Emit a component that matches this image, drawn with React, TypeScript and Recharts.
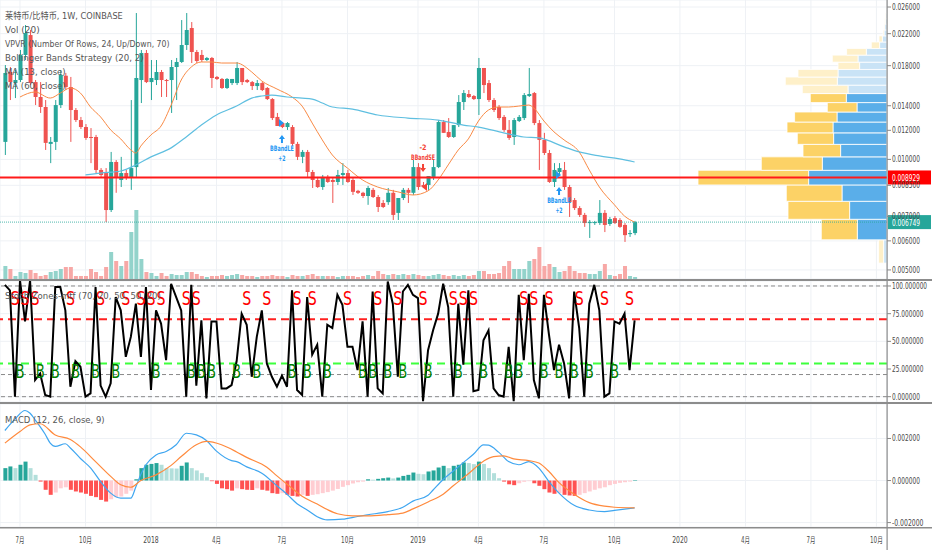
import React from "react";
import {
  ComposedChart, Bar, Line, Scatter, XAxis, YAxis, CartesianGrid,
  ReferenceLine, ReferenceArea,
} from "recharts";

// weekly bars, first bar on Monday 2017-06-12; x = week index
const tickWeeks = [3, 16, 29, 42, 55, 68, 82, 94, 107, 121, 134, 147, 160, 173];
const tickLabels = ["7月", "10月", "2018", "4月", "7月", "10月", "2019", "4月", "7月", "10月", "2020", "4月", "7月", "10月"];

// [open, high, low, close]
const weeklyOHLC: number[][] = [
  [0.01116, 0.01807, 0.01028, 0.01719], [0.0173, 0.01785, 0.01451, 0.01624], [0.01614, 0.01752, 0.01469, 0.01645],
  [0.01645, 0.01986, 0.01624, 0.01925], [0.01925, 0.02322, 0.01865, 0.02209], [0.02181, 0.02251, 0.01594, 0.01614],
  [0.01624, 0.01645, 0.01406, 0.01479], [0.01479, 0.01624, 0.01338, 0.01389], [0.01389, 0.01451, 0.01061, 0.01109],
  [0.01102, 0.01151, 0.00977, 0.01116], [0.01116, 0.01451, 0.01061, 0.01406], [0.01406, 0.01752, 0.0138, 0.01698],
  [0.0169, 0.0172, 0.01545, 0.01574], [0.01574, 0.01677, 0.01116, 0.01363], [0.01363, 0.0138, 0.01264, 0.0128],
  [0.0128, 0.01305, 0.0121, 0.01225], [0.01225, 0.01248, 0.0113, 0.01144], [0.01151, 0.01217, 0.00977, 0.01144],
  [0.01151, 0.01166, 0.00918, 0.00936], [0.00936, 0.00947, 0.00896, 0.00907], [0.00918, 0.00947, 0.00675, 0.00728],
  [0.00728, 0.01048, 0.00719, 0.00984], [0.00984, 0.00996, 0.00811, 0.0089], [0.00879, 0.01016, 0.00841, 0.00918],
  [0.00918, 0.00936, 0.00879, 0.0089], [0.0089, 0.01451, 0.00826, 0.00947], [0.00953, 0.02504, 0.00896, 0.01666],
  [0.01645, 0.01986, 0.01424, 0.01949], [0.01949, 0.01986, 0.01614, 0.01624], [0.01624, 0.01865, 0.01451, 0.01666],
  [0.01645, 0.01865, 0.01594, 0.0173], [0.0173, 0.01752, 0.01479, 0.01645], [0.01645, 0.01656, 0.01479, 0.01635],
  [0.01645, 0.01865, 0.01338, 0.01785], [0.01785, 0.01889, 0.01451, 0.01842], [0.01842, 0.02396, 0.0183, 0.02049],
  [0.02049, 0.02504, 0.01986, 0.02251], [0.02279, 0.02366, 0.0183, 0.01961], [0.01961, 0.01986, 0.0183, 0.01853],
  [0.01925, 0.01986, 0.01842, 0.01865], [0.01865, 0.01901, 0.01853, 0.01889], [0.01889, 0.01901, 0.01565, 0.01666],
  [0.01677, 0.01687, 0.01645, 0.01656], [0.01656, 0.01666, 0.01555, 0.01565], [0.01565, 0.01666, 0.01555, 0.01656],
  [0.01614, 0.01656, 0.01594, 0.01656], [0.01614, 0.01842, 0.01594, 0.01774], [0.01774, 0.01774, 0.01594, 0.01624],
  [0.01645, 0.01656, 0.01614, 0.01624], [0.01624, 0.01635, 0.01545, 0.01584], [0.01584, 0.01645, 0.01545, 0.01614],
  [0.01614, 0.01624, 0.01535, 0.01545], [0.01565, 0.01574, 0.01451, 0.0146], [0.0146, 0.01469, 0.0128, 0.01296],
  [0.01305, 0.01338, 0.01233, 0.01233], [0.01256, 0.01264, 0.01217, 0.01225], [0.01225, 0.01264, 0.01203, 0.01256],
  [0.01225, 0.0124, 0.01088, 0.01102], [0.01102, 0.01116, 0.00996, 0.01016], [0.01016, 0.01061, 0.00977, 0.01048],
  [0.01048, 0.01061, 0.00896, 0.00924], [0.00924, 0.00936, 0.00836, 0.00879], [0.00879, 0.00896, 0.00836, 0.00841],
  [0.00841, 0.00907, 0.00826, 0.00896], [0.00896, 0.00907, 0.00863, 0.00868], [0.00879, 0.0089, 0.00761, 0.00868],
  [0.00868, 0.00936, 0.00852, 0.00907], [0.00907, 0.00977, 0.00852, 0.00918], [0.00918, 0.00936, 0.00863, 0.00868],
  [0.00879, 0.0089, 0.008, 0.00816], [0.00821, 0.00826, 0.00805, 0.00811], [0.00811, 0.00816, 0.00785, 0.00795],
  [0.00795, 0.00847, 0.00752, 0.00836], [0.00826, 0.00836, 0.00785, 0.0079], [0.0079, 0.008, 0.00719, 0.00742],
  [0.00761, 0.00775, 0.00737, 0.00742], [0.00765, 0.00836, 0.00752, 0.00811], [0.00811, 0.00826, 0.00684, 0.00706],
  [0.00715, 0.00785, 0.00684, 0.00785], [0.00785, 0.00836, 0.00775, 0.00826], [0.00826, 0.00836, 0.00761, 0.00811],
  [0.00811, 0.00996, 0.008, 0.00953], [0.00953, 0.00977, 0.00826, 0.00841], [0.00852, 0.00868, 0.00836, 0.00841],
  [0.00852, 0.00901, 0.00826, 0.00901], [0.00896, 0.00996, 0.00879, 0.00953], [0.00953, 0.0128, 0.00947, 0.01264],
  [0.01264, 0.0128, 0.01181, 0.01181], [0.01188, 0.01296, 0.01144, 0.01151], [0.01151, 0.0124, 0.01144, 0.0124],
  [0.0124, 0.01497, 0.01225, 0.01433], [0.01433, 0.01545, 0.01363, 0.01516], [0.01507, 0.01545, 0.01469, 0.01479],
  [0.01488, 0.01497, 0.01451, 0.0146], [0.0146, 0.01889, 0.01321, 0.01774], [0.01774, 0.01774, 0.01516, 0.01594],
  [0.01614, 0.01645, 0.01433, 0.01451], [0.01451, 0.01469, 0.01346, 0.01363], [0.01389, 0.01406, 0.0128, 0.01296],
  [0.01305, 0.01321, 0.01188, 0.01203], [0.01203, 0.0128, 0.0113, 0.01144], [0.01151, 0.01296, 0.01095, 0.0128],
  [0.01272, 0.01321, 0.01264, 0.01305], [0.01296, 0.01516, 0.0128, 0.01497], [0.01488, 0.01774, 0.01479, 0.01507],
  [0.01516, 0.01526, 0.0124, 0.01256], [0.01256, 0.0128, 0.00936, 0.0113], [0.0113, 0.01181, 0.01028, 0.01041],
  [0.01041, 0.01061, 0.00863, 0.00868], [0.00868, 0.00977, 0.00841, 0.00936], [0.00924, 0.00977, 0.00907, 0.00947],
  [0.00936, 0.00984, 0.00826, 0.00841], [0.00841, 0.00852, 0.00697, 0.00765], [0.00775, 0.00785, 0.00728, 0.00737],
  [0.00737, 0.00746, 0.00697, 0.00706], [0.00706, 0.00715, 0.00655, 0.00671], [0.00671, 0.00684, 0.00611, 0.00675],
  [0.00671, 0.0068, 0.00663, 0.00675], [0.00671, 0.00775, 0.00663, 0.00715], [0.00715, 0.00728, 0.00634, 0.00663],
  [0.00667, 0.00697, 0.00659, 0.00688], [0.00692, 0.00701, 0.00667, 0.00671], [0.00684, 0.00692, 0.00651, 0.00655],
  [0.00663, 0.00671, 0.00596, 0.00622], [0.00626, 0.00642, 0.00615, 0.0063], [0.0063, 0.0068, 0.00622, 0.006749],
];

const volumes = [
  1300, 1000, 300, 700, 600, 900, 600, 300, 400, 700, 800, 1000, 1200, 1200, 300, 300, 300, 1000, 700, 300,
  1200, 2700, 1800, 1300, 1800, 4700, 6900, 2000, 700, 600, 300, 600, 300, 500, 400, 400, 700, 700, 500, 300,
  200, 300, 300, 400, 300, 400, 500, 400, 300, 300, 200, 300, 300, 400, 300, 300, 200, 400, 300, 300,
  400, 500, 300, 300, 300, 300, 200, 300, 300, 300, 200, 300, 400, 300, 800, 500, 400, 500, 400, 500,
  400, 500, 400, 300, 300, 400, 500, 400, 300, 400, 300, 400, 300, 400, 800, 800, 500, 500, 600, 1300,
  1800, 1000, 1000, 1000, 1800, 2000, 3200, 1300, 1500, 1200, 700, 800, 1300, 800, 600, 600, 500, 500, 800, 1500,
  400, 300, 500, 1300, 300, 200,
];

const ma13Points: number[][] = [
  [3, 0.01479], [6, 0.01526], [9, 0.01469], [11, 0.01516], [13, 0.01565], [15, 0.01516], [17, 0.01389], [19, 0.01305],
  [21, 0.01203], [23, 0.01137], [25, 0.01061], [26, 0.01041], [27, 0.01088], [29, 0.01166], [31, 0.01233], [33, 0.01406],
  [35, 0.01645], [37, 0.01785], [39, 0.01842], [41, 0.01842], [43, 0.0183], [46, 0.0183], [49, 0.0173], [51, 0.01635],
  [54, 0.01555], [57, 0.01479], [59, 0.01397], [61, 0.01256], [63, 0.0113], [65, 0.01028], [68, 0.00947], [71, 0.00879],
  [74, 0.00841], [78, 0.00816], [81, 0.008], [84, 0.00821], [86, 0.00879], [88, 0.00966], [90, 0.01061], [92, 0.01137],
  [94, 0.01272], [96, 0.01363], [98, 0.01389], [100, 0.01389], [102, 0.01397], [104, 0.01406], [105, 0.0138], [107, 0.01272],
  [109, 0.01188], [111, 0.0113], [114, 0.01048], [116, 0.00936], [118, 0.00841], [121, 0.00752], [123, 0.00701], [125, 0.00675],
];
const ma60Points: number[][] = [
  [16, 0.00907], [19, 0.00918], [23, 0.0093], [26, 0.00966], [29, 0.01016], [33, 0.01075], [36, 0.01151], [39, 0.0124],
  [42, 0.01321], [46, 0.01397], [49, 0.01469], [51, 0.01488], [53, 0.01497], [56, 0.01479], [59, 0.01469], [61, 0.0146],
  [63, 0.01424], [65, 0.01389], [69, 0.01371], [74, 0.01321], [80, 0.01296], [86, 0.0128], [91, 0.0124], [94, 0.01225],
  [99, 0.01181], [103, 0.01151], [106, 0.01144], [111, 0.01082], [114, 0.01048], [118, 0.01022], [122, 0.01003], [125, 0.00984],
];

// strategy signals: week, price at arrow tip
const signals = [
  { i: 55, p: 0.01165, kind: "LE" },
  { i: 83, p: 0.00924, kind: "SE" },
  { i: 110, p: 0.00841, kind: "LE" },
];

// VPVR: 24 rows, edges + up/down volume per row (bottom to top)
const vpEdges = [0.00522, 0.00604, 0.00687, 0.00769, 0.00852, 0.00934, 0.01016, 0.01099, 0.01181, 0.01264, 0.01346, 0.01428,
  0.01511, 0.01593, 0.01676, 0.01758, 0.0184, 0.01923, 0.02005, 0.02088, 0.0217, 0.02252, 0.02335, 0.02417, 0.025];
const vpUp = [3.4, 29.7, 37.4, 45, 78.4, 64.7, 46.4, 53.4, 54, 50, 30, 40.7, 39, 49.7, 49, 27.4, 29, 20.7, 7.4, 4.7, 3, 2.3, 1.7, 1.2];
const vpDown = [5, 36, 61.6, 55.7, 110.6, 61, 37.6, 36.3, 46, 42.4, 29.7, 36, 45.7, 52, 40, 21.6, 25.7, 19.7, 8.3, 3.3, 1, 0.7, 0.7, 0.6];
const valueAreaRows = [1, 11];
const POC = 0.008929;
const LAST = 0.006749;

const oscValues = [
  101, 96, 0, 105, 68, 105, 15, 21, 1.5, 0, 99, 99, 78, 9, 32, 27, 0, 3, 99, 10,
  0, 12, 90, 78, 36, 54, 84, 36, 99, 6, 78, 66, 33, 102, 90, 78, 0, 101, 10, 69,
  -1.5, 68, 68, 7.5, 7.5, 10.5, 32, 75, 65, 18, 54, 78, 30, 18, 9, 19, 9, 96, 6, 1.5,
  90, 38, 47, 0, 65, 62, 92, 83, 45, 45, 24, 68, 0, 95, 7.5, 3, 104, 84, 18, 95,
  101, 92, 89, -4, 42, 60, 75, 102, 81, 0, 84, 29, 96, 5, 6, 51, 60, 7.5, 1.5, 0,
  45, -4, 92, 33, 93, 15, -1.5, 92, 56, 24, 47, 30, -1.5, 95, 62, 0, 84, 101, 78, 0,
  3, 68, 66, 75, 24, 69,
];
const sWeeks = [2, 4, 6, 13, 19, 24, 27, 29, 31, 36, 38, 48, 52, 58, 61, 68, 74, 78, 83, 89, 91, 93, 103, 105, 108, 114, 119, 124];
const bWeeks = [3, 7, 10, 14, 18, 22, 30, 37, 39, 41, 46, 50, 57, 60, 64, 71, 73, 76, 79, 84, 90, 95, 100, 102, 107, 110, 113, 116, 121];

const macdHist = [
  0.00059, 0.00067, 0.00059, 0.00075, 0.0009, 0.00059, 0.00027, -0.00005, -0.00044, -0.00068,
  -0.00057, -0.00037, -0.00032, -0.00044, -0.00052, -0.00057, -0.00063, -0.00073, -0.00079, -0.00092,
  -0.001, -0.00089, -0.00079, -0.00076, -0.00063, -0.00048, 0.00006, 0.00059, 0.00075, 0.00079,
  0.00083, 0.00075, 0.00059, 0.00058, 0.00057, 0.0007, 0.00086, 0.00059, 0.00048, 0.00035,
  0.00016, -0.00003, -0.00016, -0.00037, -0.00041, -0.00048, -0.00037, -0.00041, -0.00044, -0.00045,
  -0.00037, -0.00044, -0.00048, -0.0006, -0.00063, -0.0006, -0.00068, -0.00073, -0.00076, -0.00068,
  -0.00073, -0.00068, -0.00065, -0.0006, -0.00055, -0.00048, -0.0004, -0.0003, -0.00022, -0.00014,
  -0.00008, -0.00005, 0.00006, 0.00004, 0.00008, 0.00011, 0.00014, 0.0001, 0.00014, 0.00022,
  0.00027, 0.00038, 0.00032, 0.0003, 0.00043, 0.00048, 0.00062, 0.0007, 0.00059, 0.0007,
  0.00075, 0.00086, 0.00083, 0.00078, 0.0009, 0.00079, 0.00059, 0.00035, 0.00011, -0.00005,
  -0.00018, -0.00022, -0.00013, -0.00006, -0.00003, -0.00013, -0.00025, -0.00041, -0.00057, -0.00063,
  -0.0006, -0.00068, -0.00071, -0.00073, -0.00068, -0.0006, -0.00052, -0.00044, -0.00037, -0.00032,
  -0.00022, -0.00016, -0.00011, -0.00008, -0.00005, 0.00001,
];
const macdPoints: number[][] = [
  [0, 0.00238], [2, 0.00292], [4, 0.00333], [5, 0.0032], [6, 0.00289], [8, 0.0022], [9, 0.00178], [10, 0.00162],
  [12, 0.00175], [13, 0.00155], [15, 0.00105], [17, 0.0006], [19, -0.00005], [21, -0.0006], [23, -0.00084], [25, -0.00084],
  [26, -0.0003], [27, 0.0003], [28, 0.00075], [30, 0.00122], [32, 0.00138], [34, 0.0017], [36, 0.00225], [38, 0.00217],
  [40, 0.0019], [42, 0.0014], [45, 0.00095], [46, 0.0009], [48, 0.00065], [51, 0.00035], [54, -0.00025], [56, -0.00065],
  [58, -0.0011], [60, -0.0014], [62, -0.00172], [64, -0.00187], [67, -0.00184], [70, -0.00171], [72, -0.00163], [76, -0.00148],
  [79, -0.00127], [81, -0.00098], [84, -0.0007], [85, -0.00045], [87, 0.00005], [89, 0.00045], [91, 0.00085], [93, 0.00125],
  [95, 0.0017], [96, 0.00168], [98, 0.00135], [100, 0.0009], [102, 0.00075], [104, 0.0009], [106, 0.00059], [108, -0.00005],
  [110, -0.0006], [113, -0.00118], [116, -0.0014], [119, -0.00148], [121, -0.00142], [125, -0.0013],
];
const signalPoints: number[][] = [
  [0, 0.00178], [3, 0.00233], [5, 0.00265], [7, 0.0027], [10, 0.00217], [13, 0.00195], [15, 0.0016], [18, 0.0009],
  [21, 0.0002], [23, -0.0002], [25, -0.00032], [27, 0.0], [30, 0.00027], [33, 0.00072], [35, 0.00114], [38, 0.0017],
  [40, 0.00186], [43, 0.0017], [46, 0.00136], [48, 0.0011], [52, 0.00063], [54, 0.00022], [57, -0.00037], [59, -0.00075],
  [62, -0.00112], [64, -0.00138], [66, -0.00158], [69, -0.00168], [72, -0.00168], [76, -0.00162], [79, -0.00155], [81, -0.00135],
  [84, -0.00102], [87, -0.00065], [89, -0.00025], [92, 0.00032], [95, 0.00092], [97, 0.00114], [99, 0.00117], [101, 0.00103],
  [104, 0.00095], [106, 0.00083], [108, 0.00043], [110, -0.0001], [113, -0.00065], [116, -0.00105], [119, -0.00122], [121, -0.00127],
  [125, -0.0013],
];

const priceTicks = [0.026, 0.022, 0.018, 0.014, 0.012, 0.01, 0.0085, 0.007, 0.006, 0.005];

const W = 932;
const X_DOMAIN = [-0.97, 175.1];
const FONT = "'DejaVu Sans', 'Noto Sans CJK SC', sans-serif";
const UP = "#26a69a";
const DOWN = "#ef5350";
const GRID = "#eef1f5";

const ma13 = new Map(ma13Points.map(([i, v]) => [i, v]));
const ma60 = new Map(ma60Points.map(([i, v]) => [i, v]));
const macdMap = new Map(macdPoints.map(([i, v]) => [i, v]));
const sigMap = new Map(signalPoints.map(([i, v]) => [i, v]));

const priceRows = weeklyOHLC.map(([o, h, l, c], i) => ({
  i, o, h, l, c, hl: [l, h], vol: volumes[i], ma13: ma13.get(i), ma60: ma60.get(i),
}));
const oscRows = oscValues.map((v, i) => ({ i, osc: v }));
const sRows = sWeeks.map((i) => ({ i, y: 89 }));
const bRows = bWeeks.map((i) => ({ i, y: 23 }));
const macdRows = macdHist.map((v, i) => {
  const prev = i > 0 ? macdHist[i - 1] : 0;
  const col = v >= 0 ? (v >= prev ? "#26a69a" : "#b2dfdb") : (v <= prev ? "#ff5252" : "#ffcdd2");
  return { i, hist: v, col, macd: macdMap.get(i), sig: sigMap.get(i) };
});

// condensed-looking text, width forced per character cell
function CText({ x, y, s, size = 9.5, cw = 4.33, cjk = 8.8, fill = "#555", anchor = "start", weight = 400 }: any) {
  let w = 0;
  for (const ch of s) w += ch.charCodeAt(0) > 0x2e80 ? cjk : cw;
  return (
    <text x={x} y={y} fontSize={size} fontFamily={FONT} fill={fill} textAnchor={anchor}
      dominantBaseline="central" fontWeight={weight} textLength={w} lengthAdjust="spacingAndGlyphs">
      {s}
    </text>
  );
}

const AxisTick = ({ x, y, payload }: any) => (
  <CText x={x} y={y} s={Number(payload.value).toFixed(6)} size={8.3} cw={3.5} fill="#4a4a4a" />
);

const XTick = ({ x, y, payload }: any) => {
  const s = tickLabels[tickWeeks.indexOf(payload.value)] ?? "";
  return <CText x={x} y={y + 13} s={s} anchor="middle" size={8.5} cw={3.9} cjk={5} fill="#4a4a4a" />;
};

const Candle = (p: any) => {
  const { x, y, width, height, payload } = p;
  if (!payload || height == null) return null;
  const { o, h, l, c } = payload;
  const top = Math.min(y, y + height);
  const hgt = Math.abs(height);
  const span = Math.log(h) - Math.log(l);
  const yOf = (v: number) => (span > 0 ? top + (hgt * (Math.log(h) - Math.log(v))) / span : top);
  const col = c >= o ? UP : DOWN;
  const b1 = yOf(Math.max(o, c));
  const b2 = yOf(Math.min(o, c));
  const cx = x + width / 2;
  return (
    <g>
      <line x1={cx} x2={cx} y1={top} y2={top + hgt} stroke={col} strokeWidth={1} />
      <rect x={x} y={b1} width={width} height={Math.max(1, b2 - b1)} fill={col} />
    </g>
  );
};

const VolBar = (p: any) => {
  const { x, y, width, height, payload } = p;
  if (!payload || !height) return null;
  return <rect x={x} y={y} width={width} height={height} fill={payload.c >= payload.o ? "#93d3cb" : "#f7a8a6"} />;
};

const HistBar = (p: any) => {
  const { x, y, width, height, payload } = p;
  if (!payload) return null;
  const top = Math.min(y, y + height);
  return <rect x={x} y={top} width={width} height={Math.max(0.5, Math.abs(height))} fill={payload.col} />;
};

const SignalMark = (p: any) => {
  const { cx, cy, payload } = p;
  if (cx == null || cy == null) return null;
  if (payload.kind === "LE") {
    const col = "#2196f3";
    return (
      <g>
        <path d={`M${cx - 3},${cy - 16} L${cx + 2},${cy - 12} L${cx - 3},${cy - 8} Z`} fill={col} />
        <path d={`M${cx},${cy} L${cx + 3},${cy + 4} L${cx + 1},${cy + 4} L${cx + 1},${cy + 8} L${cx - 1},${cy + 8} L${cx - 1},${cy + 4} L${cx - 3},${cy + 4} Z`} fill={col} />
        <CText x={cx} y={cy + 13} s="BBandLE" anchor="middle" size={7.5} cw={3.4} fill={col} weight={700} />
        <CText x={cx} y={cy + 23} s="+2" anchor="middle" size={7.5} cw={3.6} fill={col} weight={700} />
      </g>
    );
  }
  const col = "#f44336";
  return (
    <g>
      <path d={`M${cx},${cy} L${cx + 3},${cy - 4} L${cx + 1},${cy - 4} L${cx + 1},${cy - 8} L${cx - 1},${cy - 8} L${cx - 1},${cy - 4} L${cx - 3},${cy - 4} Z`} fill={col} />
      <CText x={cx} y={cy - 15} s="BBandSE" anchor="middle" size={7.5} cw={3.4} fill={col} weight={700} />
      <CText x={cx} y={cy - 25} s="-2" anchor="middle" size={7.5} cw={3.6} fill={col} weight={700} />
      <path d={`M${cx + 4},${cy + 11} L${cx - 1},${cy + 15} L${cx + 4},${cy + 19} Z`} fill={col} />
    </g>
  );
};

const Letter = (ch: string, fill: string) => (p: any) => {
  if (p.cx == null) return null;
  return (
    <text x={p.cx} y={p.cy} fontSize={20} fontFamily={FONT} fill={fill} textAnchor="middle"
      dominantBaseline="central" textLength={9} lengthAdjust="spacingAndGlyphs">{ch}</text>
  );
};

const PriceTag = ({ viewBox, text, bg }: any) => {
  if (!viewBox) return null;
  const x = viewBox.x + viewBox.width + 1;
  const y = viewBox.y;
  return (
    <g>
      <rect x={x} y={y - 7} width={43} height={14} fill={bg} />
      <CText x={x + 4} y={y + 0.5} s={text} size={8.3} cw={3.5} fill="#fff" />
    </g>
  );
};

const legend = [
  "莱特币/比特币, 1W, COINBASE",
  "Vol (20)",
  "VPVR (Number Of Rows, 24, Up/Down, 70)",
  "Bollinger Bands Strategy (20, 2)",
  "MA (13, close)",
  "MA (60, close)",
];

const margin = { top: 0, right: 0, bottom: 0, left: 0 };

export default function App() {
  return (
    <div style={{ position: "absolute", left: 0, top: 0, width: W, height: 550, background: "#fff", overflow: "hidden" }}>
      {/* price pane */}
      <div style={{ position: "absolute", left: 0, top: 0 }}>
        <ComposedChart width={W} height={279} data={priceRows} margin={margin}>
          <CartesianGrid xAxisId="t" yAxisId="price" stroke={GRID} />
          <XAxis xAxisId="t" dataKey="i" type="number" domain={X_DOMAIN} ticks={tickWeeks} hide allowDataOverflow />
          <XAxis xAxisId="vx" dataKey="i" type="number" domain={X_DOMAIN} hide allowDataOverflow />
          <XAxis xAxisId="vp" dataKey="i" type="number" domain={[0, 887]} reversed hide allowDataOverflow />
          <YAxis yAxisId="price" orientation="right" width={45} type="number" scale="log"
            domain={[0.004724, 0.02717]} ticks={priceTicks} interval={0} allowDataOverflow
            axisLine={false} tickLine={{ stroke: "#888" }} tickSize={4} tickMargin={1} tick={<AxisTick />} />
          <YAxis yAxisId="vol" hide type="number" domain={[0, 27900]} allowDataOverflow />
          <Bar xAxisId="vx" yAxisId="vol" dataKey="vol" barSize={4} shape={VolBar} isAnimationActive={false} />
          {vpEdges.slice(0, 24).map((lo, k) => {
            const va = k >= valueAreaRows[0] && k <= valueAreaRows[1];
            return [
              <ReferenceArea key={`u${k}`} xAxisId="vp" yAxisId="price" x1={0} x2={vpUp[k]} y1={lo} y2={vpEdges[k + 1]}
                fill={va ? "#5aaee9" : "#c9e3f6"} fillOpacity={1} stroke="#fff" strokeWidth={0.8} />,
              <ReferenceArea key={`d${k}`} xAxisId="vp" yAxisId="price" x1={vpUp[k]} x2={vpUp[k] + vpDown[k]} y1={lo} y2={vpEdges[k + 1]}
                fill={va ? "#fcd266" : "#fef0c9"} fillOpacity={1} stroke="#fff" strokeWidth={0.8} />,
            ];
          })}
          <Bar xAxisId="t" yAxisId="price" dataKey="hl" barSize={4} shape={Candle} isAnimationActive={false} />
          <Line xAxisId="t" yAxisId="price" dataKey="ma13" type="monotone" connectNulls dot={false} activeDot={false}
            stroke="#f98a45" strokeWidth={1} isAnimationActive={false} />
          <Line xAxisId="t" yAxisId="price" dataKey="ma60" type="monotone" connectNulls dot={false} activeDot={false}
            stroke="#5fbfe0" strokeWidth={1.2} isAnimationActive={false} />
          <Scatter xAxisId="t" yAxisId="price" data={signals} dataKey="p" shape={SignalMark} isAnimationActive={false} />
          <ReferenceLine xAxisId="t" yAxisId="price" y={LAST} stroke="#26a69a" strokeDasharray="1 1" strokeOpacity={0.8}
            label={<PriceTag text={LAST.toFixed(6)} bg="#26a69a" />} />
          <ReferenceLine xAxisId="t" yAxisId="price" y={POC} stroke="#ff1a1a" strokeWidth={2}
            label={<PriceTag text={POC.toFixed(6)} bg="#ff0000" />} />
        </ComposedChart>
      </div>

      {/* oscillator pane */}
      <div style={{ position: "absolute", left: 0, top: 281 }}>
        <ComposedChart width={W} height={121} data={oscRows} margin={margin}>
          <CartesianGrid xAxisId="t" yAxisId="o" stroke={GRID} />
          <XAxis xAxisId="t" dataKey="i" type="number" domain={X_DOMAIN} ticks={tickWeeks} hide allowDataOverflow />
          <YAxis yAxisId="o" orientation="right" width={45} type="number" domain={[-4.8, 104.5]}
            ticks={[100, 75, 50, 25, 0]} interval={0} allowDataOverflow axisLine={false}
            tickLine={{ stroke: "#888" }} tickSize={4} tickMargin={1} tick={<AxisTick />} />
          <ReferenceLine xAxisId="t" yAxisId="o" y={100} stroke="#8a8a8a" strokeDasharray="4 3" />
          <ReferenceLine xAxisId="t" yAxisId="o" y={20} stroke="#8a8a8a" strokeDasharray="4 3" />
          <ReferenceLine xAxisId="t" yAxisId="o" y={0} stroke="#8a8a8a" strokeDasharray="4 3" />
          <ReferenceLine xAxisId="t" yAxisId="o" y={70} stroke="#ff2020" strokeWidth={2} strokeDasharray="8 5" />
          <ReferenceLine xAxisId="t" yAxisId="o" y={30} stroke="#3dff3d" strokeWidth={2} strokeDasharray="8 5" />
          <Line xAxisId="t" yAxisId="o" dataKey="osc" type="linear" dot={false} activeDot={false}
            stroke="#000" strokeWidth={2} isAnimationActive={false} />
          <Scatter xAxisId="t" yAxisId="o" data={sRows} dataKey="y" shape={Letter("S", "#ff0000")} isAnimationActive={false} />
          <Scatter xAxisId="t" yAxisId="o" data={bRows} dataKey="y" shape={Letter("B", "#008000")} isAnimationActive={false} />
        </ComposedChart>
      </div>

      {/* MACD pane */}
      <div style={{ position: "absolute", left: 0, top: 404 }}>
        <ComposedChart width={W} height={146} data={macdRows} margin={margin}>
          <CartesianGrid xAxisId="t" yAxisId="m" stroke={GRID} />
          <XAxis xAxisId="t" dataKey="i" type="number" domain={X_DOMAIN} ticks={tickWeeks} interval={0}
            height={23} axisLine={false} tickLine={false} tickSize={0} tickMargin={0} tick={<XTick />} allowDataOverflow />
          <YAxis yAxisId="m" orientation="right" width={45} type="number" domain={[-0.00221, 0.00364]}
            ticks={[0.002, 0, -0.002]} interval={0} allowDataOverflow axisLine={false}
            tickLine={{ stroke: "#888" }} tickSize={4} tickMargin={1} tick={<AxisTick />} />
          <Bar xAxisId="t" yAxisId="m" dataKey="hist" barSize={4} shape={HistBar} isAnimationActive={false} />
          <Line xAxisId="t" yAxisId="m" dataKey="macd" type="monotone" connectNulls dot={false} activeDot={false}
            stroke="#3fa6f0" strokeWidth={1.2} isAnimationActive={false} />
          <Line xAxisId="t" yAxisId="m" dataKey="sig" type="monotone" connectNulls dot={false} activeDot={false}
            stroke="#ff8a3d" strokeWidth={1.2} isAnimationActive={false} />
        </ComposedChart>
      </div>

      {/* pane frames and titles */}
      <svg width={W} height={550} style={{ position: "absolute", left: 0, top: 0, pointerEvents: "none" }}>
        <rect x={0} y={279} width={W} height={2} fill="#8c8c8c" />
        <rect x={0} y={402} width={W} height={2} fill="#8c8c8c" />
        <rect x={0} y={527} width={W} height={1.5} fill="#8c8c8c" />
        <rect x={886.5} y={0} width={1.2} height={550} fill="#8c8c8c" />
        {legend.map((s, k) => (
          <CText key={s} x={5} y={15 + k * 14} s={s} />
        ))}
        <CText x={5} y={295} s="Stoch Zones-mtf (70, 20, 50, 50, 20)" />
        <CText x={5} y={419} s="MACD (12, 26, close, 9)" />
      </svg>
    </div>
  );
}
